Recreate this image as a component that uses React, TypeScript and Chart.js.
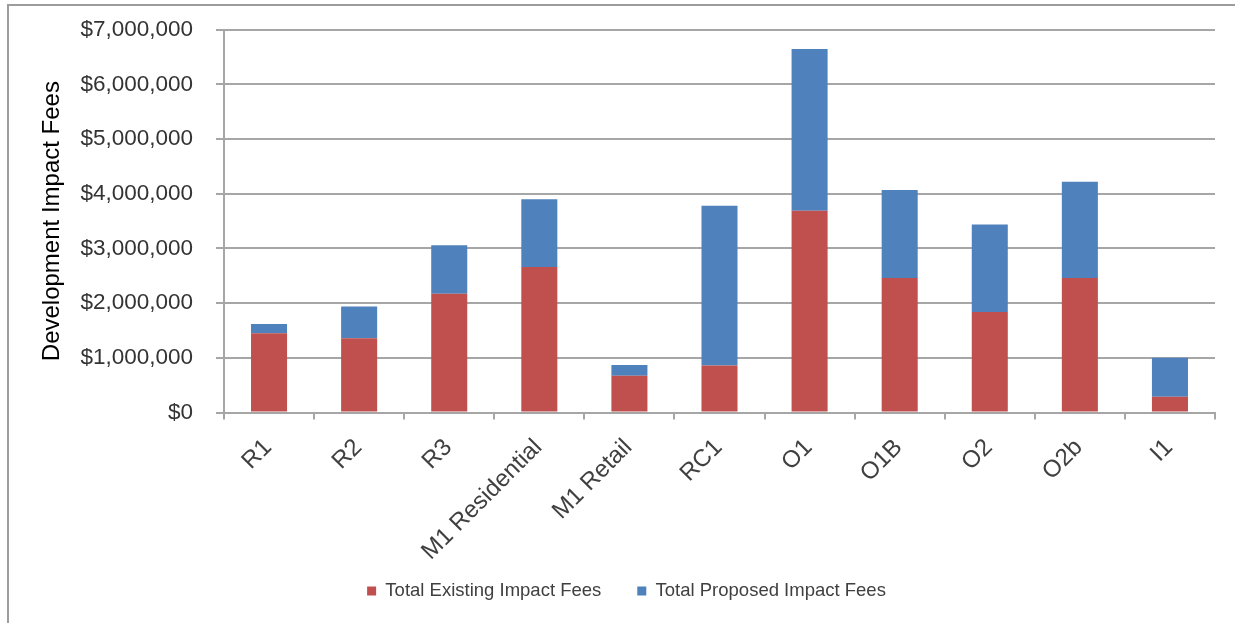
import React, { useEffect, useRef } from "react";
import { Chart, registerables } from "chart.js";

Chart.register(...registerables);

// Zoning districts along the x axis
const categories = [
  "R1",
  "R2",
  "R3",
  "M1 Residential",
  "M1 Retail",
  "RC1",
  "O1",
  "O1B",
  "O2",
  "O2b",
  "I1",
];

// Lower segment: existing fees
const existingFees = [
  1450000, 1360000, 2170000, 2660000, 670000, 860000, 3690000, 2460000,
  1840000, 2460000, 290000,
];

// Upper segment stacked on top of the existing fees
const proposedFees = [
  170000, 580000, 890000, 1240000, 200000, 2920000, 2960000, 1610000,
  1600000, 1760000, 710000,
];

const seriesNames = ["Total Existing Impact Fees", "Total Proposed Impact Fees"];
const yAxisTitle = "Development Impact Fees";
const yMin = 0;
const yMax = 7000000;
const yStep = 1000000;

const FONT = "'Liberation Sans', Arial, sans-serif";

// Thin grey frame along the top and left edges of the canvas
const framePlugin = {
  id: "frame",
  beforeDraw(chart: any) {
    const { ctx, width, height } = chart;
    ctx.save();
    ctx.fillStyle = "#ffffff";
    ctx.fillRect(0, 0, width, height);
    ctx.strokeStyle = "#9c9c9c";
    ctx.lineWidth = 2;
    ctx.beginPath();
    ctx.moveTo(8, height);
    ctx.lineTo(8, 5);
    ctx.lineTo(width, 5);
    ctx.stroke();
    ctx.restore();
  },
};

// Let the long rotated category labels run past the x-axis box
// (the legend sits beside them) instead of being clipped.
const labelRoomPlugin = {
  id: "labelRoom",
  afterLayout(chart: any) {
    const xs = chart.scales.x;
    if (!xs) return;
    xs.bottom = chart.height;
    xs.height = xs.bottom - xs.top;
  },
};

export default function App() {
  const canvasRef = useRef<HTMLCanvasElement | null>(null);

  useEffect(() => {
    if (!canvasRef.current) return;
    const legendPad = 36;
    const legendFont = 18.5;
    // legend block height: padding + item height + 10
    const legendBlock = legendPad + legendFont + 10;
    const bottomPad = 12.75;

    const chart = new Chart(canvasRef.current, {
      type: "bar",
      data: {
        labels: categories,
        datasets: [
          {
            label: seriesNames[0],
            data: existingFees,
            backgroundColor: "#C0504D",
            barPercentage: 0.4,
            categoryPercentage: 1.0,
          },
          {
            label: seriesNames[1],
            data: proposedFees,
            backgroundColor: "#4F81BD",
            barPercentage: 0.4,
            categoryPercentage: 1.0,
          },
        ],
      },
      options: {
        responsive: false,
        animation: false,
        layout: {
          padding: { left: 38, right: 20, top: 24, bottom: bottomPad },
        },
        plugins: {
          legend: {
            position: "bottom",
            labels: {
              boxWidth: 9,
              boxHeight: 9,
              padding: legendPad,
              color: "#404040",
              font: { family: FONT, size: legendFont },
            },
          },
          tooltip: { enabled: false },
        },
        scales: {
          x: {
            stacked: true,
            grid: {
              display: true,
              drawOnChartArea: false,
              drawTicks: true,
              tickLength: 7,
              color: "#a6a6a6",
              lineWidth: 2,
            },
            border: { display: true, color: "#a6a6a6", width: 2 },
            ticks: {
              autoSkip: false,
              minRotation: 45,
              maxRotation: 45,
              padding: 14,
              labelOffset: -1,
              color: "#404040",
              font: { family: FONT, size: 24 },
            },
            afterFit(scale: any) {
              scale.height = 623 - bottomPad - legendBlock - 412.5;
            },
          },
          y: {
            stacked: true,
            min: yMin,
            max: yMax,
            grid: {
              color: "#a6a6a6",
              lineWidth: 2,
              tickLength: 8,
            },
            border: { display: true, color: "#a6a6a6", width: 2 },
            ticks: {
              stepSize: yStep,
              padding: 23,
              color: "#333333",
              font: { family: FONT, size: 22.5, lineHeight: 0.6 },
              callback: (v: any) => "$" + Number(v).toLocaleString("en-US"),
            },
            title: {
              display: true,
              text: yAxisTitle,
              color: "#000000",
              font: { family: FONT, size: 24 },
              padding: { top: 0, bottom: 0 },
            },
            afterFit(scale: any) {
              scale.width = 186;
            },
          },
        },
      },
      plugins: [framePlugin, labelRoomPlugin],
    });

    return () => chart.destroy();
  }, []);

  return (
    <div
      style={{
        position: "fixed",
        left: 0,
        top: 0,
        width: 1235,
        height: 623,
        background: "#fff",
      }}
    >
      <canvas ref={canvasRef} width={1235} height={623} />
    </div>
  );
}
